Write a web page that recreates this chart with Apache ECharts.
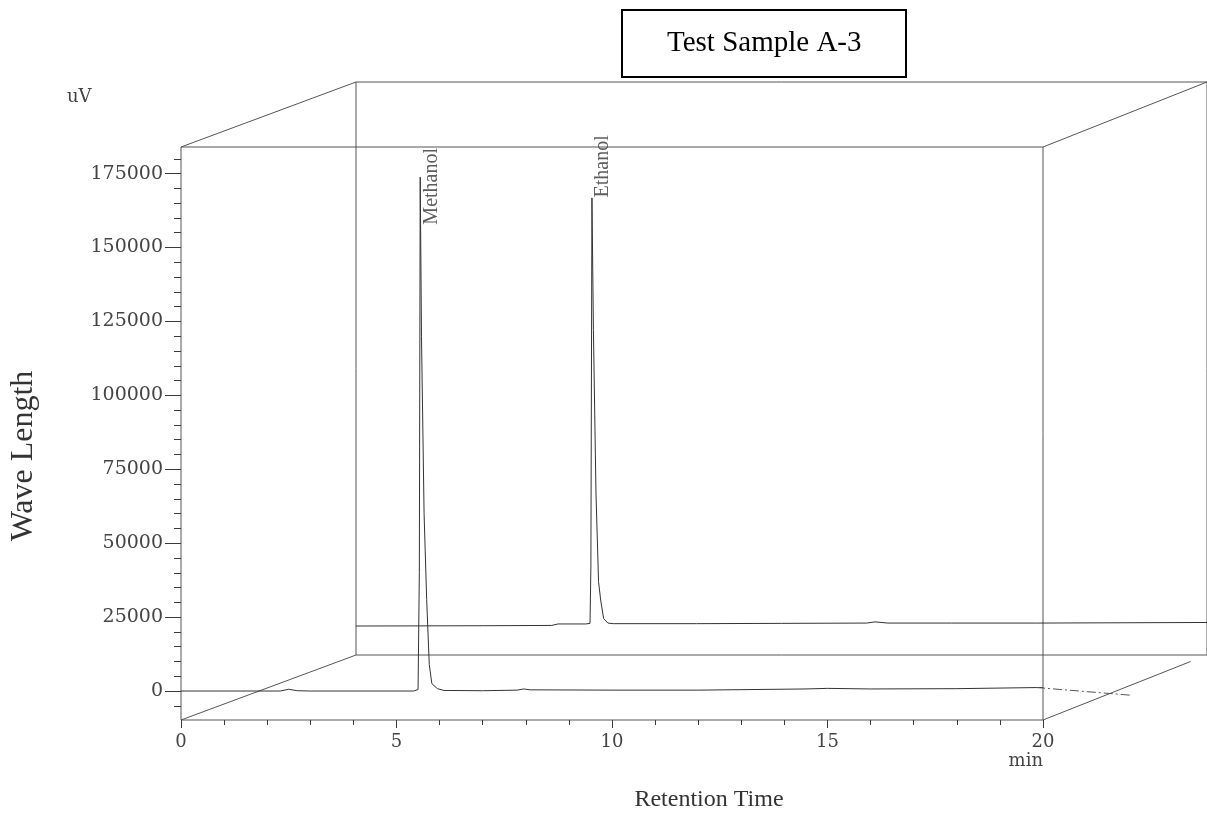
<!DOCTYPE html>
<html><head><meta charset="utf-8">
<script src="https://cdn.jsdelivr.net/npm/echarts@6/dist/echarts.min.js"></script>
<style>html,body{margin:0;padding:0;background:#fff}#c{width:1207px;height:817px}</style>
</head><body><div id="c"></div>
<script>
// ---- data ----
const chartTitle = 'Test Sample A-3';
const xTitle = 'Retention Time';
const yTitle = 'Wave Length';
const yUnit = 'uV';
const xUnit = 'min';
const xTicks = [0, 5, 10, 15, 20];
const yTicks = [0, 25000, 50000, 75000, 100000, 125000, 150000, 175000];
const yMinorTicks = [-5000, 0, 5000, 10000, 15000, 20000, 25000, 30000, 35000, 40000, 45000, 50000,
  55000, 60000, 65000, 70000, 75000, 80000, 85000, 90000, 95000, 100000, 105000, 110000, 115000,
  120000, 125000, 130000, 135000, 140000, 145000, 150000, 155000, 160000, 165000, 170000, 175000, 180000];

// front trace (Methanol)
const frontTime   = [0, 2.3, 2.5, 2.7, 3.0, 5.40, 5.50, 5.53, 5.55, 5.58, 5.64, 5.70, 5.76, 5.82, 5.95, 6.10, 7.0, 7.8, 7.95, 8.1, 10, 12, 14.5, 15, 16, 18, 20];
const frontSignal = [0, 0, 600, 100, 0, 0, 500, 40000, 173800, 120000, 60000, 31000, 9000, 2500, 800, 200, 100, 300, 700, 400, 300, 300, 700, 900, 700, 800, 1200];
// dashed continuation past the end of the run
const tailTime   = [20, 22.2];
const tailSignal = [1200, -1400];

// back trace (Ethanol)
const backTime   = [0, 3.0, 4.6, 4.75, 5.40, 5.50, 5.52, 5.545, 5.58, 5.64, 5.70, 5.75, 5.82, 5.92, 6.05, 8, 10, 12, 12.2, 12.5, 14, 16, 18, 20];
const backSignal = [0, 100, 200, 700, 700, 900, 20000, 144800, 100000, 45000, 15000, 8800, 2500, 1000, 800, 800, 900, 1000, 1400, 1000, 1000, 1000, 1100, 1200];

const peakNames  = ['Methanol', 'Ethanol'];
const peakTime   = [5.55, 5.545];
const peakSignal = [173800, 144800];

// ---- chart ----
const Y_MIN = -9800, Y_MAX = 184000;
const SERIF = '"Liberation Serif", "Times New Roman", serif';
const TICKF = '"DejaVu Serif", serif';
const lineCol = '#3a3a3a';

const chart = echarts.init(document.getElementById('c'), null, {renderer: 'canvas'});

const pairs = (a, b) => a.map((t, i) => [t, b[i]]);
const hiddenAxis = {axisLine: {show: false, onZero: false}, axisTick: {show: false}, axisLabel: {show: false}, splitLine: {show: false}};

const option = {
  animation: false,
  backgroundColor: '#fff',
  title: [{
    text: chartTitle, left: 622, top: 10,
    padding: [19, 45, 19, 45],
    borderColor: '#000', borderWidth: 2,
    textStyle: {fontFamily: SERIF, fontSize: 29, fontWeight: 'normal', color: '#000'}
  }],
  grid: [
    {left: 181, top: 147, width: 862, height: 573, show: true, borderColor: '#555', borderWidth: 1, backgroundColor: 'transparent'},
    {left: 356, top: 82, width: 862, height: 573, show: true, borderColor: '#555', borderWidth: 1, backgroundColor: 'transparent'},
    // same scale as the front frame, extended to the right for the dashed continuation
    {left: 181, top: 147, width: 1034.4, height: 573, show: false}
  ],
  xAxis: [
    {type: 'value', gridIndex: 0, min: 0, max: 20, interval: 5,
      axisLine: {show: false, onZero: false}, splitLine: {show: false},
      axisTick: {show: true, length: 8, lineStyle: {color: lineCol}},
      minorTick: {show: true, splitNumber: 5, length: 5, lineStyle: {color: lineCol}},
      axisLabel: {show: true, customValues: xTicks, margin: 13, fontFamily: TICKF, fontSize: 18, color: '#444'}},
    Object.assign({type: 'value', gridIndex: 1, min: 0, max: 20}, hiddenAxis),
    Object.assign({type: 'value', gridIndex: 2, min: 0, max: 24}, hiddenAxis)
  ],
  yAxis: [
    {type: 'value', gridIndex: 0, min: Y_MIN, max: Y_MAX, position: 'left',
      axisLine: {show: false, onZero: false}, splitLine: {show: false},
      axisTick: {show: true, customValues: yTicks, length: 16, lineStyle: {color: lineCol}},
      axisLabel: {show: true, customValues: yTicks, margin: 18, formatter: v => String(v),
        fontFamily: TICKF, fontSize: 19, color: '#444'}},
    {type: 'value', gridIndex: 0, min: Y_MIN, max: Y_MAX, position: 'left', offset: 0,
      axisLine: {show: false, onZero: false}, splitLine: {show: false}, axisLabel: {show: false},
      axisTick: {show: true, customValues: yMinorTicks, length: 7, lineStyle: {color: lineCol}}},
    Object.assign({type: 'value', gridIndex: 1, min: Y_MIN, max: Y_MAX}, hiddenAxis),
    Object.assign({type: 'value', gridIndex: 2, min: Y_MIN, max: Y_MAX}, hiddenAxis)
  ],
  series: [
    {type: 'line', name: 'front', xAxisIndex: 0, yAxisIndex: 0, data: pairs(frontTime, frontSignal),
      showSymbol: false, symbol: 'none', lineStyle: {color: '#333', width: 1}},
    {type: 'line', name: 'tail', xAxisIndex: 2, yAxisIndex: 3, data: pairs(tailTime, tailSignal),
      showSymbol: false, symbol: 'none', lineStyle: {color: '#555', width: 1, type: [9, 3, 2, 3]}},
    {type: 'line', name: 'back', xAxisIndex: 1, yAxisIndex: 2, data: pairs(backTime, backSignal),
      showSymbol: false, symbol: 'none', lineStyle: {color: '#333', width: 1}},
    {type: 'scatter', name: 'lblFront', xAxisIndex: 0, yAxisIndex: 0, symbolSize: 1, silent: true,
      itemStyle: {color: 'rgba(0,0,0,0)'},
      data: [{name: peakNames[0], value: [peakTime[0], peakSignal[0]]}],
      label: {show: true, formatter: '{b}', rotate: 90, position: [0, 0], align: 'left', verticalAlign: 'top',
        offset: [-48, 2], fontFamily: SERIF, fontSize: 20, color: '#333'}},
    {type: 'scatter', name: 'lblBack', xAxisIndex: 1, yAxisIndex: 2, symbolSize: 1, silent: true,
      itemStyle: {color: 'rgba(0,0,0,0)'},
      data: [{name: peakNames[1], value: [peakTime[1], peakSignal[1]]}],
      label: {show: true, formatter: '{b}', rotate: 90, position: [0, 0], align: 'left', verticalAlign: 'top',
        offset: [0, 1], fontFamily: SERIF, fontSize: 20, color: '#333'}}
  ]
};
chart.setOption(option);

// connectors between front and back frames, derived from the grid scales
const fTL = chart.convertToPixel({gridIndex: 0}, [0, Y_MAX]);
const fTR = chart.convertToPixel({gridIndex: 0}, [20, Y_MAX]);
const fBL = chart.convertToPixel({gridIndex: 0}, [0, Y_MIN]);
const fBR = chart.convertToPixel({gridIndex: 0}, [20, Y_MIN]);
const bTL = chart.convertToPixel({gridIndex: 1}, [0, Y_MAX]);
const bTR = chart.convertToPixel({gridIndex: 1}, [20, Y_MAX]);
const bBL = chart.convertToPixel({gridIndex: 1}, [0, Y_MIN]);
const bBR = chart.convertToPixel({gridIndex: 1}, [20, Y_MIN]);
const seg = (a, b, f) => ({type: 'line', silent: true,
  shape: {x1: a[0], y1: a[1], x2: a[0] + (b[0] - a[0]) * (f || 1), y2: a[1] + (b[1] - a[1]) * (f || 1)},
  style: {stroke: '#555', lineWidth: 1}});
const xLab = chart.convertToPixel({gridIndex: 0}, [20, Y_MIN]);

chart.setOption({graphic: [
  seg(fTL, bTL), seg(fTR, bTR), seg(fBL, bBL), seg(fBR, bBR, 0.9),
  {type: 'text', x: 24, y: 456, rotation: Math.PI / 2,
    style: {text: yTitle, font: '32px ' + SERIF, fill: '#333', align: 'center', verticalAlign: 'middle'}},
  {type: 'text', x: 709, y: 800,
    style: {text: xTitle, font: '24px ' + SERIF, fill: '#333', align: 'center', verticalAlign: 'middle'}},
  {type: 'text', x: 67, y: 97,
    style: {text: yUnit, font: '18px ' + TICKF, fill: '#444', align: 'left', verticalAlign: 'middle'}},
  {type: 'text', x: xLab[0], y: 761,
    style: {text: xUnit, font: '18px ' + TICKF, fill: '#444', align: 'right', verticalAlign: 'middle'}}
]});
</script>
</body></html>
